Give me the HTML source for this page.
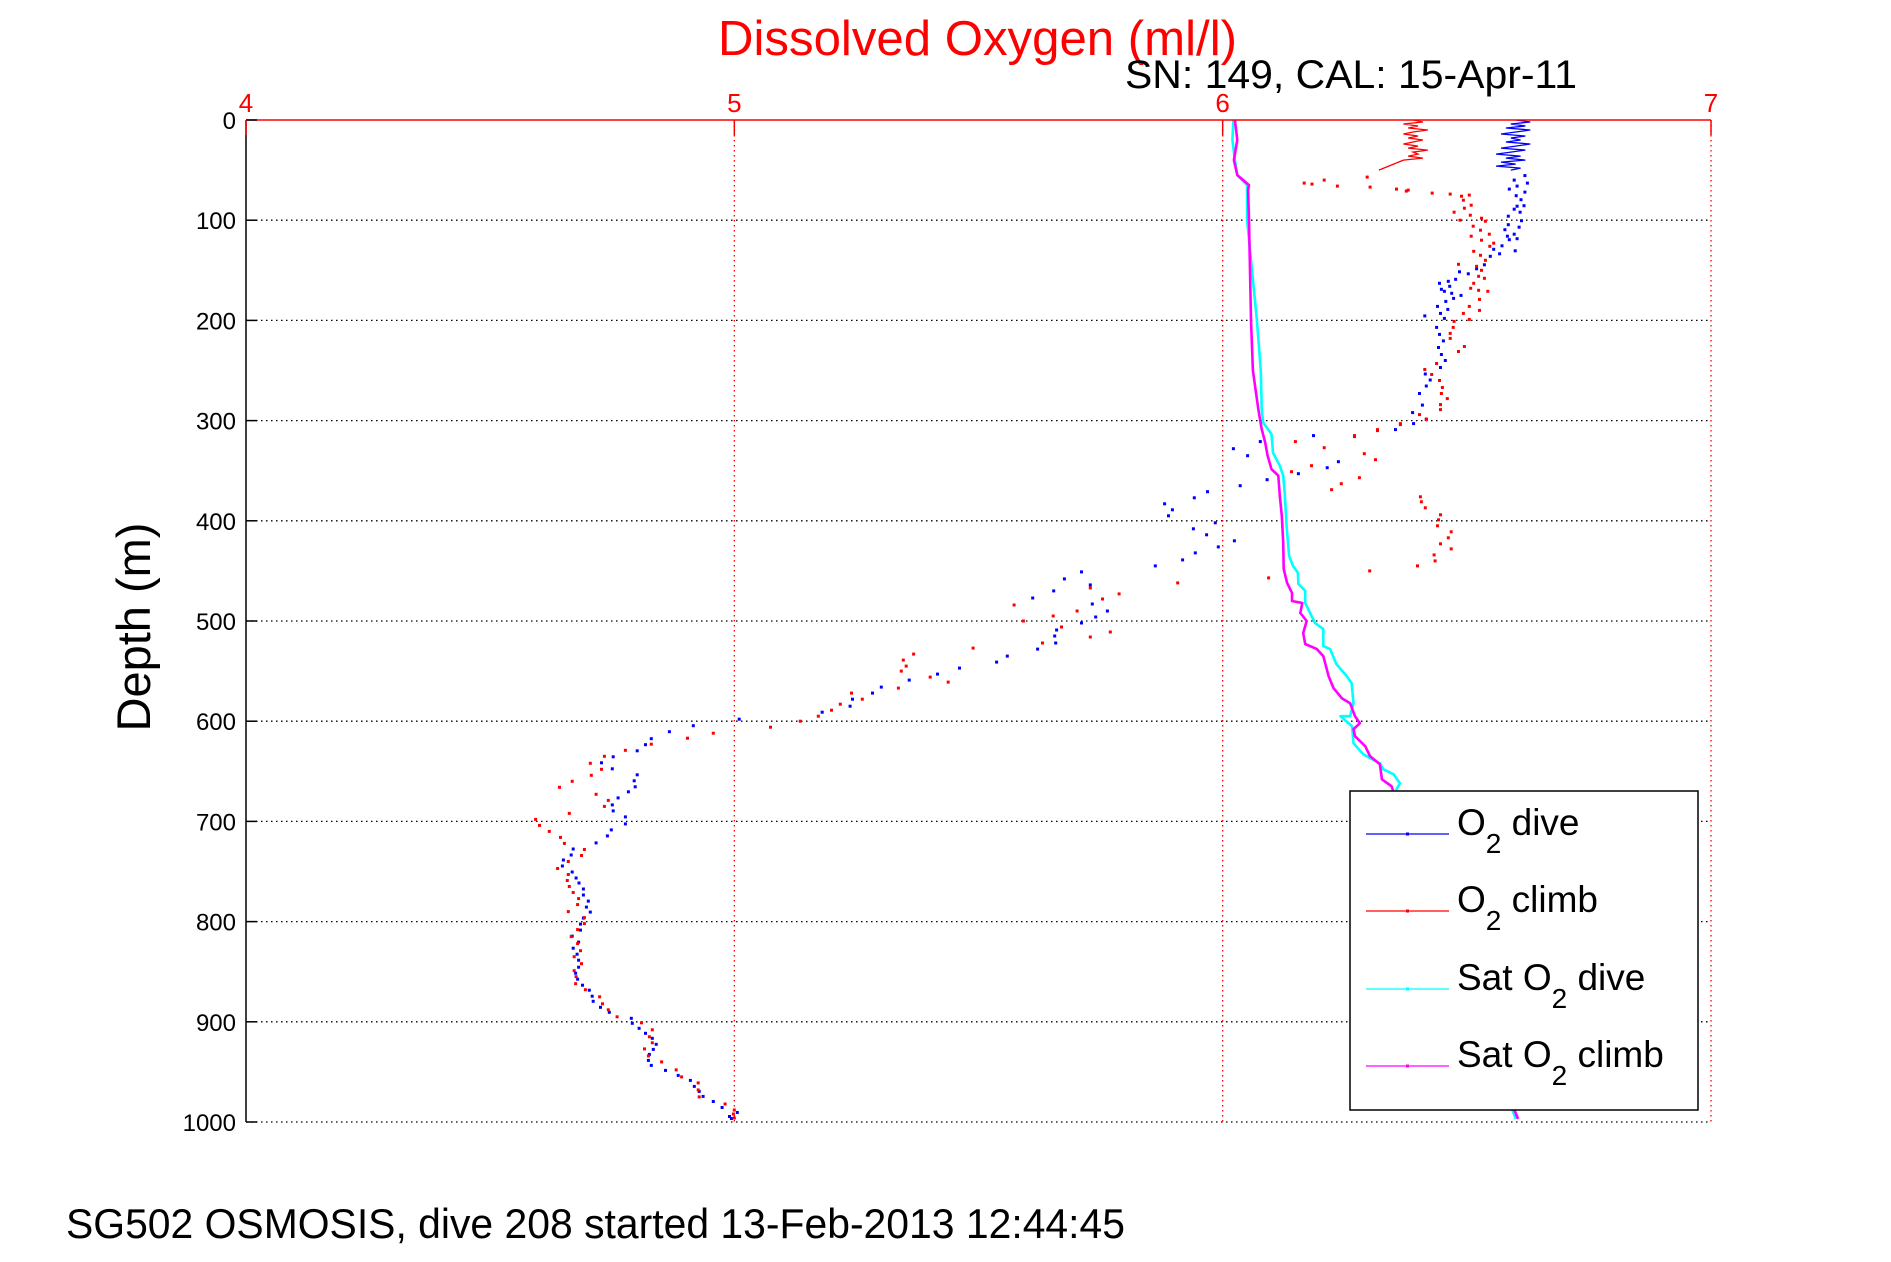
<!DOCTYPE html>
<html><head><meta charset="utf-8"><style>
html,body{margin:0;padding:0;background:#fff;}
svg{display:block;font-family:"Liberation Sans",Arial,sans-serif;}
</style></head><body>
<svg id="chart" width="1891" height="1262" viewBox="0 0 1891 1262" xmlns="http://www.w3.org/2000/svg">
<rect x="0" y="0" width="1891" height="1262" fill="#fff"/>
<g id="grid"></g>
<g id="series"></g>
<g id="axes"></g>
<text x="718" y="55" font-size="49" fill="#ff0000" textLength="519" lengthAdjust="spacingAndGlyphs">Dissolved Oxygen (ml/l)</text>
<text x="1125" y="88" font-size="40" fill="#000" textLength="452" lengthAdjust="spacingAndGlyphs">SN: 149, CAL: 15-Apr-11</text>
<text transform="translate(150,627) rotate(-90)" text-anchor="middle" font-size="47" fill="#000">Depth (m)</text>
<text x="66" y="1238" font-size="42" fill="#000" textLength="1059" lengthAdjust="spacingAndGlyphs">SG502 OSMOSIS, dive 208 started 13-Feb-2013 12:44:45</text>
<g>
<rect x="1350" y="791" width="348" height="319" fill="#fff" stroke="#000" stroke-width="1.5"/>
<g>
<line x1="1366" y1="834" x2="1449" y2="834" stroke="#0000ff" stroke-width="1.3"/><rect x="1406" y="832.5" width="3" height="3" fill="#0000ff"/>
<text x="1457" y="835" font-size="37">O<tspan font-size="28" dy="18">2</tspan><tspan dy="-18"> dive</tspan></text></g>
<g>
<line x1="1366" y1="911" x2="1449" y2="911" stroke="#ff0000" stroke-width="1.3"/><rect x="1406" y="909.5" width="3" height="3" fill="#ff0000"/>
<text x="1457" y="912" font-size="37">O<tspan font-size="28" dy="18">2</tspan><tspan dy="-18"> climb</tspan></text></g>
<g>
<line x1="1366" y1="989" x2="1449" y2="989" stroke="#00ffff" stroke-width="1.3"/><rect x="1406" y="987.5" width="3" height="3" fill="#00ffff"/>
<text x="1457" y="990" font-size="37">Sat O<tspan font-size="28" dy="18">2</tspan><tspan dy="-18"> dive</tspan></text></g>
<g>
<line x1="1366" y1="1066" x2="1449" y2="1066" stroke="#ff00ff" stroke-width="1.3"/><rect x="1406" y="1064.5" width="3" height="3" fill="#ff00ff"/>
<text x="1457" y="1067" font-size="37">Sat O<tspan font-size="28" dy="18">2</tspan><tspan dy="-18"> climb</tspan></text></g>
</g>
</svg>
<script>
// ---- data ----
const xTicks = [4, 5, 6, 7];
const xTickLabels = ["4", "5", "6", "7"];
const yTicks = [0, 100, 200, 300, 400, 500, 600, 700, 800, 900, 1000];
const yTickLabels = ["0","100","200","300","400","500","600","700","800","900","1000"];

const diveSurfDepth = [0,2,4,6,8,10,12,14,16,18,20,22,24,26,28,30,32,34,36,38,40,42,44,46,48,50];
const diveSurfO2 = [6.60,6.63,6.59,6.62,6.58,6.63,6.60,6.57,6.62,6.59,6.61,6.58,6.63,6.60,6.57,6.62,6.59,6.56,6.61,6.58,6.62,6.57,6.60,6.56,6.61,6.59];
const climbSurfDepth = [0,2,4,6,8,10,12,14,16,18,20,22,24,26,28,30,32,34,36,38,40,42,44,46,48,50];
const climbSurfO2 = [6.39,6.41,6.37,6.40,6.38,6.42,6.39,6.37,6.40,6.38,6.41,6.39,6.37,6.40,6.38,6.42,6.39,6.40,6.38,6.41,6.37,6.36,6.35,6.34,6.33,6.32];

const diveDepth = [55.5,60,63,66,69,72,75.5,79.5,85.5,86,89,92,96,100.5,104.5,107,109.5,114,116,118.5,119.5,125.5,129,130.5,133.5,136,144.5,148.5,151.5,153.5,159,161,163,166,169,171,173,175,178,181,186,189,193,195.5,198,207,214,220.5,227,234,240,247,253.5,259.5,265.5,273,284.5,292,298.5,303,309,315,321,328,335,341,347,353,359,365,371,377,383,389,395,402,408,414,420,426,432,439,445,451,458,464,470,477,483,490,496,502,509,515,522,528,535,541,547,553,559,566,572,578,585,591,598,604.5,610.5,617.5,623.5,629.5,635.5,641.5,647.5,653.5,659.5,665.5,670.5,676.5,683.5,689.5,695.5,702.5,708.5,714.5,721.5,727.5,733.5,738.5,744.5,750.5,756.5,761.5,767.5,773.5,779.5,785.5,790.5,796.5,802.5,808.5,814.5,820.5,826.5,832.5,838.5,845.5,851.5,857.5,863.5,868.5,874.5,879.5,885.5,890.5,896.5,901.5,906.5,911.5,916.5,922.5,927.5,932.5,938.5,943.5,948.5,953.5,958.5,964.5,969.5,974.5,979.5,985.5,990.5,994.5,996.5];
const diveO2 = [6.619,6.597,6.624,6.603,6.587,6.619,6.601,6.611,6.617,6.603,6.597,6.609,6.585,6.612,6.585,6.607,6.578,6.597,6.583,6.603,6.587,6.572,6.555,6.599,6.567,6.548,6.536,6.520,6.485,6.503,6.477,6.462,6.444,6.465,6.448,6.454,6.469,6.488,6.473,6.457,6.440,6.461,6.446,6.414,6.454,6.438,6.444,6.452,6.442,6.448,6.456,6.446,6.415,6.425,6.417,6.403,6.409,6.389,6.417,6.391,6.354,6.186,6.077,6.022,6.051,6.237,6.214,6.155,6.091,6.036,5.969,5.942,5.881,5.897,5.889,5.985,5.940,5.967,6.024,5.991,5.944,5.918,5.862,5.711,5.676,5.729,5.654,5.611,5.733,5.764,5.740,5.711,5.660,5.656,5.658,5.621,5.559,5.537,5.461,5.416,5.358,5.301,5.283,5.242,5.237,5.180,5.010,4.916,4.867,4.830,4.818,4.801,4.752,4.728,4.750,4.801,4.795,4.797,4.783,4.762,4.750,4.752,4.777,4.777,4.748,4.740,4.717,4.670,4.666,4.650,4.648,4.668,4.676,4.682,4.691,4.691,4.701,4.697,4.705,4.691,4.685,4.685,4.668,4.681,4.670,4.678,4.681,4.681,4.675,4.679,4.689,4.703,4.709,4.711,4.726,4.744,4.789,4.791,4.805,4.818,4.832,4.840,4.834,4.826,4.824,4.830,4.859,4.885,4.910,4.918,4.928,4.936,4.957,4.975,5.006,4.990,4.994];

const climbDepth = [57,60,63,64,66,67,69,70,71,73,74,75,76,80,85,88,92,95,98,100,101,106,110,114,116,120,123,126,131,135,140,144,146,150,156,158,163,168,170,171,179,186,190,193,199,201,207,213,218,226,231,243,249,254,260,267,273,278,284,289,294,299,303,304,309,310,315,316,321,327,333,339,345,351,357,363,369,376,381,387,394,399,405,411,417,423,428,434,440,445,450,457,462,467,473,478,484,490,495,500,506,511,516,522,527,533,539,545,550,556,561,567,572,578,583,589,595,600,606,612,617,623,629,635,642,648,654,660,666,673,679,685,692,698,704,710,716,722,728,734,740,747,753,759,765,771,777,783,790,796,802,808,815,822,829,835,842,849,855,862,868,875,882,888,895,901,908,915,921,927,934,940,948,955,961,968,975,982,988,992,996];
const climbO2 = [6.296,6.208,6.167,6.183,6.235,6.302,6.356,6.380,6.376,6.429,6.466,6.505,6.489,6.493,6.509,6.495,6.474,6.507,6.530,6.486,6.538,6.513,6.528,6.546,6.509,6.530,6.555,6.547,6.514,6.528,6.538,6.483,6.520,6.530,6.524,6.536,6.514,6.508,6.524,6.543,6.526,6.505,6.526,6.493,6.505,6.474,6.472,6.466,6.466,6.495,6.483,6.438,6.414,6.428,6.444,6.450,6.448,6.460,6.446,6.446,6.403,6.417,6.364,6.364,6.317,6.317,6.270,6.270,6.149,6.208,6.290,6.313,6.182,6.141,6.280,6.243,6.223,6.405,6.407,6.415,6.446,6.442,6.440,6.468,6.462,6.446,6.468,6.433,6.435,6.399,6.301,6.094,5.908,5.729,5.788,5.754,5.573,5.702,5.653,5.592,5.670,5.770,5.729,5.631,5.489,5.367,5.346,5.352,5.342,5.401,5.438,5.336,5.240,5.262,5.217,5.199,5.172,5.135,5.074,4.957,4.904,4.830,4.777,4.734,4.705,4.728,4.707,4.668,4.642,4.717,4.742,4.734,4.662,4.593,4.601,4.621,4.644,4.652,4.693,4.687,4.660,4.638,4.660,4.658,4.662,4.670,4.681,4.679,4.660,4.693,4.693,4.679,4.666,4.679,4.685,4.672,4.687,4.672,4.676,4.675,4.695,4.724,4.730,4.742,4.760,4.810,4.832,4.826,4.832,4.816,4.824,4.851,4.881,4.892,4.926,4.926,4.928,4.981,5.000,4.998,5.000];

const satDiveDepth = [0,20,40,55,60,65,100,150,200,250,288.5,302,313.5,332,345,355,372,405,435,445,452,463,470,482,492,502,508,525,528,543,555,562,582,595,595,605,622,633,642,648,653,662,668,800,990,997];
const satDiveO2 = [6.022,6.020,6.025,6.030,6.040,6.050,6.050,6.060,6.070,6.078,6.080,6.083,6.100,6.103,6.117,6.124,6.127,6.131,6.136,6.144,6.154,6.155,6.169,6.169,6.179,6.189,6.206,6.206,6.220,6.233,6.254,6.264,6.268,6.261,6.241,6.265,6.268,6.288,6.322,6.329,6.350,6.363,6.356,6.450,6.595,6.600];
const satClimbDepth = [0,20,40,55,60,65,70,100,150,200,250,288.5,308.5,322,335,348.5,355,375,395,422,448,462,472,480,482,492,500,512,523,528,535,555,567,577,582,595,602,608,615,625,635,643,658,665,800,991,997];
const satClimbO2 = [6.025,6.030,6.023,6.030,6.042,6.054,6.052,6.054,6.056,6.058,6.062,6.073,6.080,6.087,6.092,6.100,6.114,6.117,6.121,6.124,6.125,6.132,6.142,6.142,6.163,6.159,6.172,6.165,6.169,6.193,6.206,6.217,6.227,6.244,6.261,6.271,6.281,6.268,6.271,6.292,6.302,6.322,6.326,6.346,6.440,6.600,6.605];

// ---- scales ----
const X0 = 246, X1 = 1711, Y0 = 120, Y1 = 1122;
const xMin = 4, xMax = 7, yMin = 0, yMax = 1000;
function xs(v){ return X0 + (v - xMin) / (xMax - xMin) * (X1 - X0); }
function ys(d){ return Y0 + (d - yMin) / (yMax - yMin) * (Y1 - Y0); }
const NS = "http://www.w3.org/2000/svg";
function mk(tag, attrs, parent){
  const e = document.createElementNS(NS, tag);
  for (const k in attrs) e.setAttribute(k, attrs[k]);
  parent.appendChild(e);
  return e;
}
const grid = document.getElementById('grid');
const series = document.getElementById('series');
const axes = document.getElementById('axes');

// horizontal grid
yTicks.forEach((t, i) => {
  if (t === yMin) return;
  const l = mk('line', {x1: X0, x2: X1, y1: ys(t), y2: ys(t), stroke: '#000', 'stroke-width': 1.3, 'stroke-dasharray': '1.5 3.5'}, grid);
  
  
});
// vertical grid (red dotted)
xTicks.forEach((t, i) => {
  if (t === xMin) return;
  const l = mk('line', {x1: xs(t), x2: xs(t), y1: Y0, y2: Y1, stroke: '#ff0000', 'stroke-width': 1.3, 'stroke-dasharray': '1.5 3.5'}, grid);
  
  
});

// axes lines
const la = mk('line', {x1: X0, x2: X0, y1: Y0, y2: Y1, stroke: '#000', 'stroke-width': 1.5}, axes);


const ta = mk('line', {x1: X0, x2: X1, y1: Y0, y2: Y0, stroke: '#ff0000', 'stroke-width': 1.5}, axes);



yTicks.forEach((t, i) => {
  const tk = mk('line', {x1: X0, x2: X0 + 11, y1: ys(t), y2: ys(t), stroke: '#000', 'stroke-width': 1.5}, axes);
  
  
  const tx = mk('text', {x: X0 - 10, y: ys(t) + 9, 'text-anchor': 'end', 'font-size': 24, fill: '#000'}, axes);
  tx.textContent = yTickLabels[i];
  
  
});
xTicks.forEach((t, i) => {
  const tk = mk('line', {x1: xs(t), x2: xs(t), y1: Y0, y2: Y0 + 15, stroke: '#ff0000', 'stroke-width': 1.5}, axes);
  
  
  const tx = mk('text', {x: xs(t), y: 112, 'text-anchor': 'middle', 'font-size': 26, fill: '#ff0000'}, axes);
  tx.textContent = xTickLabels[i];
  
  
});

// saturation lines
function line(dep, val, color, name){
  const pts = dep.map((d, i) => xs(val[i]).toFixed(1) + ',' + ys(d).toFixed(1)).join(' ');
  const p = mk('polyline', {points: pts, fill: 'none', stroke: color, 'stroke-width': 2.6, 'stroke-linejoin': 'round'}, series);
  
  
}
line(satDiveDepth, satDiveO2, '#00ffff', 'sat-o2-dive-line');
line(satClimbDepth, satClimbO2, '#ff00ff', 'sat-o2-climb-line');

// surface squiggles
function squiggle(dep, val, color, name){
  const pts = dep.map((d, i) => xs(val[i]).toFixed(1) + ',' + ys(d).toFixed(1)).join(' ');
  const p = mk('polyline', {points: pts, fill: 'none', stroke: color, 'stroke-width': 1.3}, series);
  
  
}
squiggle(diveSurfDepth, diveSurfO2, '#0000ff', 'o2-dive-surface-trace');
squiggle(climbSurfDepth, climbSurfO2, '#ff0000', 'o2-climb-surface-trace');

// point series
function dots(dep, val, color, name){
  const g = mk('g', {fill: color}, series);
  
  
  dep.forEach((d, i) => {
    const r = mk('rect', {x: (xs(val[i]) - 1.5).toFixed(1), y: (ys(d) - 1.5).toFixed(1), width: 3, height: 3}, g);
    
    
  });
}
dots(diveDepth, diveO2, '#0000ff', 'o2-dive-points');
dots(climbDepth, climbO2, '#ff0000', 'o2-climb-points');
</script>
</body></html>
